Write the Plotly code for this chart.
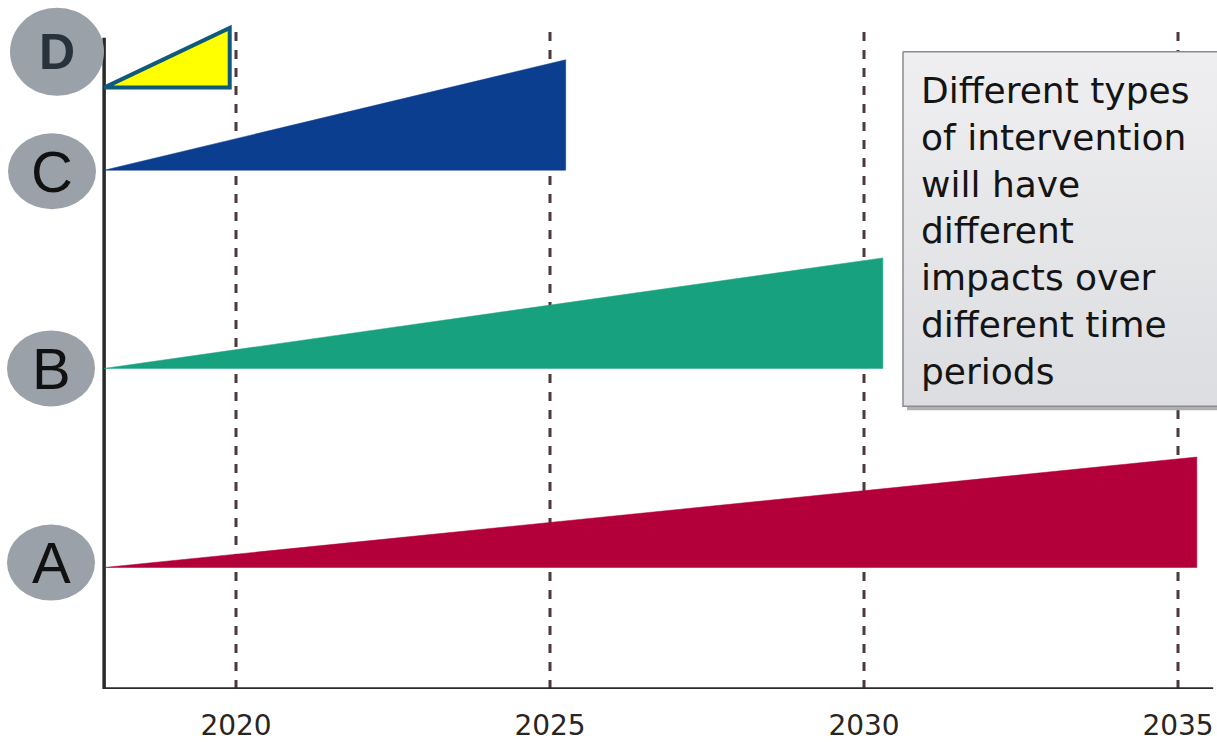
import plotly.graph_objects as go

# ---- data ----
interventions = ["A", "B", "C", "D"]
start_year = [2017.9, 2017.9, 2017.9, 2017.9]
end_year = [2035.3, 2030.3, 2025.25, 2019.9]
baseline = [1.22, 3.22, 5.21, 6.04]
peak_impact = [1.11, 1.11, 1.11, 0.60]
fill_colors = ["#b3003a", "#18a17f", "#0c3e8f", "#ffff00"]
line_colors = ["#b3003a", "#18a17f", "#0c3e8f", "#0e5a7d"]
line_widths = [0.5, 0.5, 0.5, 4]
label_y = [1.27, 3.22, 5.20, 6.40]
label_x_px = [51, 51, 52, 57]

tick_years = [2020, 2025, 2030, 2035]
tick_labels = ["2020", "2025", "2030", "2035"]

note_lines = ["Different types", "of intervention", "will have", "different",
              "impacts over", "different time", "periods"]

# ---- geometry ----
W, H = 1217, 742
px_per_year = 62.8
x_lo = 2020 - 236 / px_per_year
x_hi = 2020 + (W - 236) / px_per_year
y_top = 6.92
axis_x = 2017.9
axis_x_end = 2035.56


def px2x(px):
    return x_lo + px / px_per_year


def py2y(py):
    return (692 - py) / 100


fig = go.Figure()

for name, s, e, b, p, fc, lc, lw in zip(interventions, start_year, end_year, baseline,
                                       peak_impact, fill_colors, line_colors, line_widths):
    fig.add_trace(go.Scatter(
        x=[s, e, e, s], y=[b, b, b + p, b],
        mode="lines", fill="toself", fillcolor=fc,
        line=dict(color=lc, width=lw), name=name, showlegend=False,
        hoverinfo="skip",
    ))

# note box: shadow + gradient panel
bx0, bx1, by0, by1 = 903, 1230, 52, 408
fig.add_trace(go.Scatter(
    x=[px2x(bx0 + 4), px2x(bx1 + 4), px2x(bx1 + 4), px2x(bx0 + 4), px2x(bx0 + 4)],
    y=[py2y(by0 + 4), py2y(by0 + 4), py2y(by1 + 4), py2y(by1 + 4), py2y(by0 + 4)],
    mode="lines", fill="toself", fillcolor="#b0b0b3", line=dict(width=0),
    hoverinfo="skip", showlegend=False))
fig.add_trace(go.Scatter(
    x=[px2x(bx0), px2x(bx1), px2x(bx1), px2x(bx0), px2x(bx0)],
    y=[py2y(by0), py2y(by0), py2y(by1), py2y(by1), py2y(by0)],
    mode="lines", fill="toself",
    fillgradient=dict(type="vertical", colorscale=[[0, "#dcdde0"], [1, "#efeff1"]]),
    line=dict(color="#8c8c90", width=1.5),
    hoverinfo="skip", showlegend=False))

shapes = []
# dashed year lines (below)
for yr in tick_years:
    shapes.append(dict(type="line", xref="x", yref="y", x0=yr, x1=yr, y0=0, y1=6.60,
                       line=dict(color="#4d383c", width=3, dash="dash"), layer="below"))
# axes
shapes.append(dict(type="line", xref="x", yref="y", x0=axis_x, x1=axis_x, y0=0, y1=6.54,
                   line=dict(color="#2a2a2a", width=3.5), layer="below"))
shapes.append(dict(type="line", xref="x", yref="y", x0=axis_x, x1=axis_x_end, y0=0, y1=0,
                   line=dict(color="#2a2a2a", width=3.5), layer="below"))

# circles for labels
for name, lx, ly in zip(interventions, label_x_px, label_y):
    xa = px2x(lx)
    rx, ry = (47, 44) if name == "D" else (44, 38)
    shapes.append(dict(type="circle", xref="x", yref="y", xsizemode="pixel", ysizemode="pixel",
                       xanchor=xa, yanchor=ly, x0=-rx, x1=rx, y0=-ry, y1=ry,
                       fillcolor="#9ba1a9", line=dict(width=0)))

annotations = []
for name, lx, ly in zip(interventions, label_x_px, label_y):
    bold = name == "D"
    annotations.append(dict(x=px2x(lx), y=ly, xref="x", yref="y", showarrow=False,
                            text=f"<b>{name}</b>" if bold else name,
                            font=dict(family="Liberation Sans, Arial", size=50 if bold else 58,
                                      color="#28323c" if bold else "#111111"),
                            xanchor="center", yanchor="middle"))

for i, line in enumerate(note_lines):
    annotations.append(dict(x=px2x(919), y=py2y(91 + 47 * i), xref="x", yref="y",
                            showarrow=False, text=line, xanchor="left", yanchor="middle",
                            font=dict(family="DejaVu Sans", size=36, color="#141414")))

fig.update_layout(
    width=W, height=H,
    margin=dict(l=0, r=0, t=0, b=50),
    paper_bgcolor="white", plot_bgcolor="white",
    shapes=shapes, annotations=annotations,
    xaxis=dict(range=[x_lo, x_hi], showgrid=False, zeroline=False, showline=False,
               tickvals=tick_years, ticktext=tick_labels, ticks="",
               tickfont=dict(family="DejaVu Sans", size=28, color="#262626"),
               ticklabelstandoff=17, fixedrange=True),
    yaxis=dict(range=[0, y_top], visible=False, fixedrange=True),
    showlegend=False,
)

fig.write_html("out.html")
